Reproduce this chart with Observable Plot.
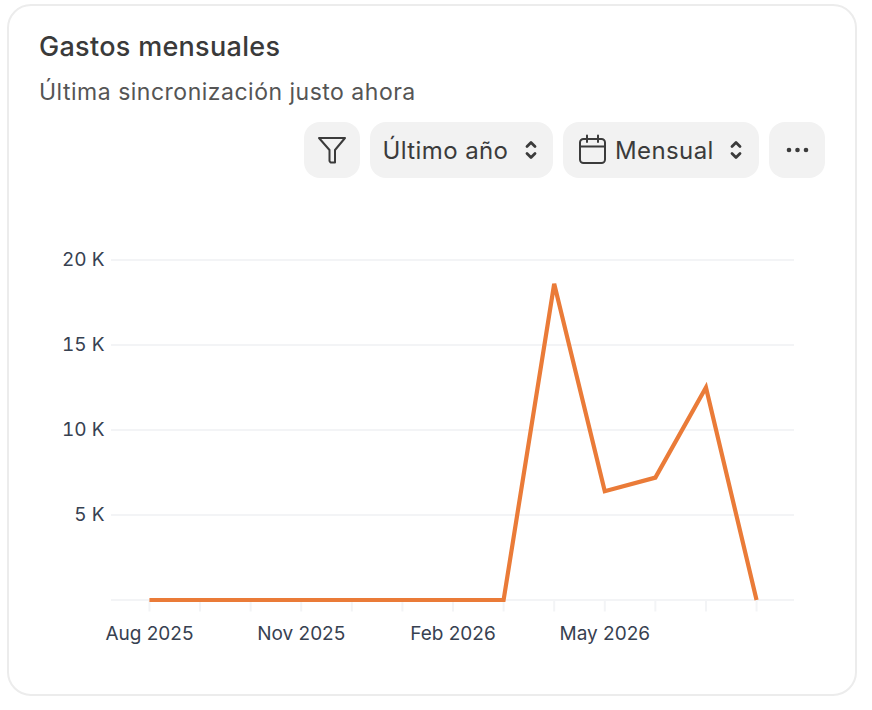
<!DOCTYPE html>
<html lang="es">
<head>
<meta charset="utf-8">
<script src="https://cdn.jsdelivr.net/npm/d3@7"></script>
<script src="https://cdn.jsdelivr.net/npm/@observablehq/plot@0.6"></script>
<style>
  html, body { margin: 0; padding: 0; background: #fff; width: 872px; height: 710px; overflow: hidden; font-family: Inter, sans-serif; }
  .card { position: absolute; left: 7px; top: 4px; width: 846px; height: 688px; border: 2px solid #ececec; border-radius: 24px; box-sizing: content-box; }
  .title { position: absolute; left: 39px; top: 30px; font-size: 27px; font-weight: 500; line-height: 34px; color: #3a3a3a; white-space: nowrap; letter-spacing: 0.3px; }
  .sub { position: absolute; left: 39px; top: 76px; font-size: 23px; line-height: 32px; color: #555; white-space: nowrap; letter-spacing: 0.5px; }
  .pill { position: absolute; top: 122px; height: 56px; background: #f2f2f2; border-radius: 16px; display: block; }
  .pill span { position: absolute; top: 13px; line-height: 32px; font-size: 24px; color: #3b3b3b; white-space: nowrap; letter-spacing: 0.4px; }
  .pill svg { position: absolute; fill: none; stroke: #3b3b3b; stroke-width: 2; stroke-linecap: round; stroke-linejoin: round; }
  #chart { position: absolute; left: 0; top: 230px; }
</style>
</head>
<body>
<div class="card"></div>
<div class="title">Gastos mensuales</div>
<div class="sub">Última sincronización justo ahora</div>

<div class="pill" style="left:304px;width:56px">
  <svg style="left:13px;top:13px" width="30" height="30" viewBox="0 0 30 30"><path d="M2 3H28L18 15V27.5L13.5 27.5 12.5 26V15Z"/></svg>
</div>
<div class="pill" style="left:370px;width:183px">
  <span style="left:12.5px">Último año</span>
  <svg style="left:151px;top:16px" width="20" height="24" viewBox="0 0 20 24"><path d="M6 8.5L10 4.5 14 8.5M6 15.5L10 19.5 14 15.5" stroke-width="2.8"/></svg>
</div>
<div class="pill" style="left:563px;width:196px">
  <svg style="left:15px;top:12px" width="30" height="32" viewBox="0 0 30 32"><rect x="2" y="5" width="25" height="24" rx="3.5"/><path d="M2 12.5H27M9 1.5V8M20 1.5V8"/></svg>
  <span style="left:52px">Mensual</span>
  <svg style="left:163px;top:16px" width="20" height="24" viewBox="0 0 20 24"><path d="M6 8.5L10 4.5 14 8.5M6 15.5L10 19.5 14 15.5" stroke-width="2.8"/></svg>
</div>
<div class="pill" style="left:769px;width:56px">
  <svg style="left:14px;top:22px;stroke:none;fill:#3b3b3b" width="28" height="12" viewBox="0 0 28 12"><circle cx="6" cy="6" r="2.3"/><circle cx="14.5" cy="6" r="2.3"/><circle cx="23" cy="6" r="2.3"/></svg>
</div>

<div id="chart"></div>

<script>
const months = ["2025-08","2025-09","2025-10","2025-11","2025-12","2026-01","2026-02","2026-03","2026-04","2026-05","2026-06","2026-07","2026-08"];
const spend  = [0,0,0,0,0,0,0,0,18600,6400,7200,12500,0];
const xLabels = {"2025-08":"Aug 2025","2025-11":"Nov 2025","2026-02":"Feb 2026","2026-05":"May 2026"};
const yTicks = [5000,10000,15000,20000];
const rows = months.map((month, i) => ({month, value: spend[i]}));

const chart = Plot.plot({
  width: 872,
  height: 420,
  marginLeft: 111,
  marginRight: 78,
  marginTop: 29.5,
  marginBottom: 50.5,
  style: {fontFamily: "Inter, sans-serif", fontSize: "19px", color: "#374151", background: "transparent", overflow: "visible"},
  x: {type: "point", domain: months, padding: 0.75, round: false, label: null},
  y: {domain: [0, 20000], label: null},
  marks: [
    Plot.ruleY([0, ...yTicks], {stroke: "#f3f4f6", strokeWidth: 2, strokeOpacity: 1}),
    Plot.axisX({ticks: months, tickSize: 12, tickPadding: 14, stroke: "#f3f4f6", strokeWidth: 2, strokeOpacity: 1, tickFormat: d => xLabels[d] ?? "", fontSize: 19, label: null}),
    Plot.axisY({ticks: yTicks, tickSize: 0, tickPadding: 7, tickFormat: d => `${d / 1000} K`, fontSize: 19, label: null}),
    Plot.line(rows, {x: "month", y: "value", stroke: "#ea7b38", strokeWidth: 4.2, strokeLinejoin: "miter", strokeLinecap: "butt", strokeMiterlimit: 4})
  ]
});
document.getElementById("chart").append(chart);
</script>
</body>
</html>
